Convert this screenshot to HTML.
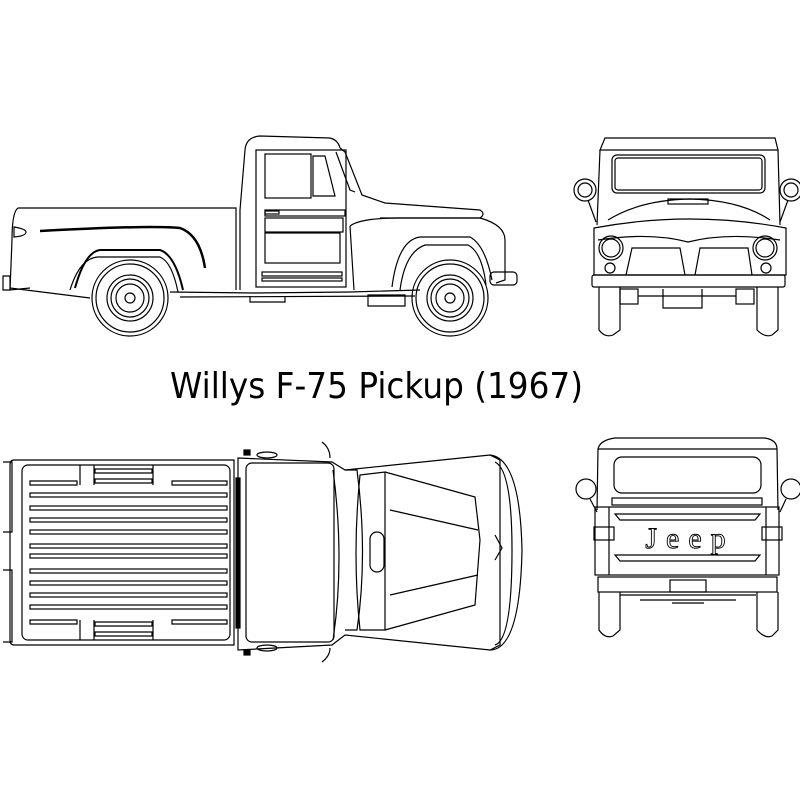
<!DOCTYPE html>
<html><head><style>html,body{margin:0;padding:0;background:#fff}svg{display:block}</style></head>
<body>
<svg width="800" height="800" viewBox="0 0 800 800" xmlns="http://www.w3.org/2000/svg" fill="none" stroke="#000" stroke-width="1.2">
<!-- SIDE VIEW -->
<g>
<path d="M245,150 Q246,137 260,136 L330,138 Q338,140 340,148"/>
<path d="M245,150 L240,210 L240,290"/>
<path d="M340,148 L345,152 L362,195 L385,203 L480,210 Q486,214 480,218 L380,218"/>
<path d="M18,208 L236,208 L236,290"/>
<path d="M18,208 Q12,212 12,240 L10,290 L30,288"/>
<path d="M14,227 Q26,229 26,232 Q26,236 14,237 Z"/>
<path d="M3,276 L10,276 L10,290 L3,290 Z"/>
<rect x="256" y="150" width="90" height="137"/>
<rect x="265" y="154" width="46" height="44"/>
<path d="M313,156 L325,156 L335,196 L313,196 Z"/>
<path d="M336,152 L350,190 L355,192"/>
<rect x="265" y="210" width="80" height="6"/>
<rect x="265" y="211" width="14" height="3"/>
<rect x="265" y="218" width="78" height="14"/>
<rect x="265" y="233" width="75" height="30"/>
<rect x="262" y="272" width="80" height="4"/>
<rect x="262" y="278" width="80" height="3"/>
<path d="M350,226 Q360,218 400,218 L480,218 Q505,225 505,240 L505,280 L496,283"/>
<path d="M350,226 Q352,260 354,290"/>
<path d="M392,287 Q398,240 420,237 L470,237 Q485,245 492,280"/>
<path d="M400,290 Q405,252 425,245 L468,245 Q482,252 486,285"/>
<rect x="490" y="272" width="27" height="13" rx="4"/>
<path d="M40,231 Q150,225 180,228 Q200,235 205,268" stroke-width="2.5"/>
<path d="M75,288 Q85,252 100,250 L160,250 Q175,255 183,290" stroke-width="2"/>
<path d="M70,290 Q80,258 98,257 L160,257 Q172,262 178,292"/>
<path d="M10,288 L90,298 M170,292 L255,293 L350,292 L420,290 M180,297 L415,296 M250,296 L250,302 L285,302 L285,296"/>
<path d="M368,295 L405,295 L405,306 L368,306 Z"/>
<circle cx="130" cy="298" r="38"/><circle cx="130" cy="298" r="34"/>
<circle cx="130" cy="298" r="23"/><circle cx="130" cy="298" r="19"/><circle cx="130" cy="298" r="14"/><circle cx="130" cy="298" r="5"/>
<circle cx="450" cy="298" r="38"/><circle cx="450" cy="298" r="34"/>
<circle cx="450" cy="298" r="23"/><circle cx="450" cy="298" r="19"/><circle cx="450" cy="298" r="14"/><circle cx="450" cy="298" r="5"/>
</g>

<text x="170" y="398" font-family="'DejaVu Sans','Liberation Sans',sans-serif" font-size="36" fill="#000" stroke="none" textLength="413" lengthAdjust="spacingAndGlyphs">Willys F-75 Pickup (1967)</text>

<!-- FRONT VIEW -->
<g>
<path d="M600,150 L605,138 L775,138 L778,150 Z"/>
<path d="M600,150 L597,225 M778,150 L780,225"/>
<rect x="612" y="155" width="153" height="38" rx="5"/>
<rect x="615" y="158" width="147" height="32" rx="3"/>
<path d="M608,220 Q640,200 690,199 Q740,200 770,220"/>
<rect x="668" y="199" width="40" height="5"/>
<path d="M594,228 Q690,210 786,228 L786,275 L594,275 Z"/>
<path d="M598,240 Q650,232 688,242 Q728,232 780,240"/>
<path d="M626,275 L632,248 L680,248 L685,275 M695,275 L700,248 L748,248 L752,275"/>
<circle cx="611" cy="248" r="12"/><circle cx="611" cy="248" r="9"/>
<circle cx="765" cy="248" r="12"/><circle cx="765" cy="248" r="9"/>
<circle cx="610" cy="268" r="5"/><circle cx="766" cy="268" r="5"/>
<circle cx="585" cy="190" r="11"/><circle cx="585" cy="190" r="7"/>
<circle cx="791" cy="190" r="11"/><circle cx="791" cy="190" r="7"/>
<path d="M588,200 L596,222 M788,200 L780,222"/>
<rect x="592" y="275" width="193" height="12" rx="2"/>
<rect x="620" y="289" width="18" height="15"/><rect x="736" y="289" width="18" height="15"/>
<path d="M638,296 L736,296 M663,289 L663,308 L702,308 L702,289"/>
<path d="M599,287 L599,330 Q605,338 613,335 L620,330 L620,287"/>
<path d="M757,287 L757,330 Q765,338 772,335 L778,330 L778,287"/>
</g>

<!-- REAR VIEW -->
<g>
<path d="M598,449 Q600,440 615,438 L765,438 Q777,440 777,449 Z"/>
<path d="M598,449 L597,510 M777,449 L778,510"/>
<rect x="614" y="457" width="147" height="36" rx="8"/>
<rect x="612" y="498" width="150" height="7"/>
<rect x="595" y="507" width="184" height="68"/>
<path d="M609,507 L609,575 M766,507 L766,575"/>
<path d="M615,514 L760,514 L755,520 L620,520 Z"/>
<path d="M615,555 L760,555 L755,561 L620,561 Z"/>
<rect x="594" y="527" width="20" height="13"/><rect x="762" y="527" width="20" height="13"/>
<text x="690" y="548" text-anchor="middle" font-family="'Liberation Serif',serif" font-size="30" fill="#fff" stroke="#000" stroke-width="0.9" letter-spacing="9">Jeep</text>
<circle cx="586" cy="489" r="10"/><circle cx="791" cy="489" r="10"/>
<path d="M590,499 L597,512 M786,499 L780,512"/>
<rect x="598" y="577" width="179" height="15"/>
<rect x="670" y="580" width="36" height="12"/>
<path d="M620,595 L756,595 M640,600 L736,600 M672,603 L704,603"/>
<path d="M599,592 L599,630 Q605,639 613,636 L620,630 L620,592"/>
<path d="M757,592 L757,630 Q765,639 772,636 L778,630 L778,592"/>
</g>

<!-- TOP VIEW -->
<g>
<path d="M14,460 L234,460 L234,645 L14,645 Q10,645 10,640 L10,465 Q10,460 14,460 Z"/>
<rect x="22" y="465" width="208" height="175" rx="6"/>
<path d="M3,462 L12,462 L12,532 L3,532 M3,570 L12,570 L12,642 L3,642"/>
<path d="M30,481 L77,481 L77,485 L30,485 Z M172,481 L227,481 L227,485 L172,485 Z M95,469 L152,469 L152,473 L95,473 Z M95,479 L152,479 L152,483 L95,483 Z M80,465 L80,485 M94,465 L94,485 M153,465 L153,485"/>
<path d="M30,620 L77,620 L77,624 L30,624 Z M172,620 L227,620 L227,624 L172,624 Z M95,622 L152,622 L152,626 L95,626 Z M95,632 L152,632 L152,636 L95,636 Z M80,620 L80,640 M94,620 L94,640 M153,620 L153,640"/>
<g>
<rect x="30" y="493" width="197" height="4"/><rect x="30" y="506" width="197" height="4"/>
<rect x="30" y="518" width="197" height="4"/><rect x="30" y="530" width="197" height="4"/>
<rect x="30" y="544" width="197" height="4"/><rect x="30" y="554" width="197" height="4"/>
<rect x="30" y="569" width="197" height="4"/><rect x="30" y="581" width="197" height="4"/>
<rect x="30" y="593" width="197" height="4"/><rect x="30" y="605" width="197" height="4"/>
</g>
<rect x="236" y="478" width="4" height="150" fill="#000"/>
<path d="M238,458 L332,462 L345,470 L490,455 L500,460 L500,645 L490,650 L345,635 L332,645 L238,650 Z"/>
<rect x="246" y="463" width="88" height="179" rx="6"/>
<path d="M333,470 Q345,560 333,640 M345,470 L357,470 Q368,555 357,630 L345,630"/>
<path d="M360,475 L385,472 L385,630 L360,630 Q352,555 360,475 Z"/>
<path d="M385,472 L475,497 L480,540 L475,605 L385,630"/>
<path d="M390,510 L478,530 M390,595 L478,575"/>
<rect x="370" y="532" width="14" height="40" rx="7"/>
<path d="M490,455 Q520,458 522,550 Q520,650 490,650 M495,462 Q512,470 512,550 Q512,640 495,645"/>
<path d="M495,535 L502,548 L495,560"/>
<ellipse cx="267" cy="455" rx="10" ry="3"/><ellipse cx="267" cy="648" rx="10" ry="3"/>
<rect x="244" y="450" width="6" height="5" fill="#000"/><rect x="244" y="650" width="6" height="5" fill="#000"/>
<path d="M322,442 Q330,448 330,458 M322,662 Q330,656 330,648"/>
</g>
</svg>
</body></html>
